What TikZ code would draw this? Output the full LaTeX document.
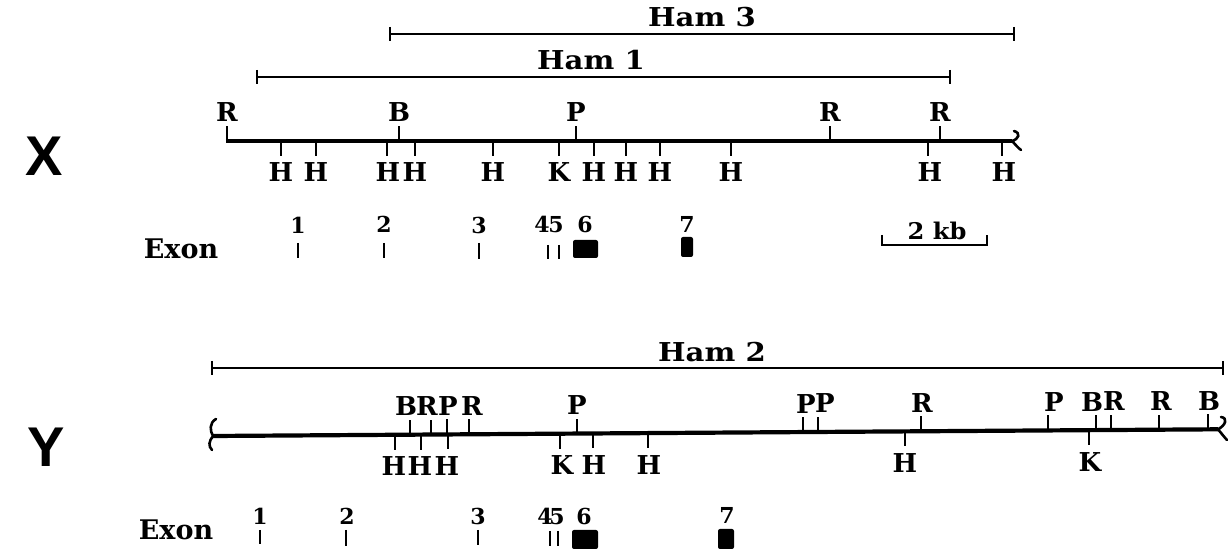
\documentclass[tikz,border=0pt]{standalone}
\usepackage{fontspec}
\usepackage{graphicx}
\setmainfont{DejaVu Serif}
\newfontfamily\bigsans{Liberation Sans}
\newcommand\usite[5]{%
  \coordinate (#1a) at (#2,#3);
  \coordinate (#1b) at (#2,#3-15);
  \draw[tk] (#1a) -- (#1b);
  \node[site,anchor=base] (#1) at (#4,#3-19) {#5};}
\newcommand\dsite[5]{%
  \coordinate (#1a) at (#2,#3);
  \coordinate (#1b) at (#2,#3+15);
  \draw[tk] (#1a) -- (#1b);
  \node[site,anchor=base] (#1) at (#4,#3+41) {#5};}
\newcommand\usiteY[4]{\pgfmathsetmacro\lyv{436-0.0067*(#2-213)}\usite{#1}{#2}{\lyv}{#3}{#4}}
\newcommand\dsiteY[4]{\pgfmathsetmacro\lyv{436-0.0067*(#2-213)}\dsite{#1}{#2}{\lyv}{#3}{#4}}
\newcommand\exontick[4]{% id, x, ytop, ybot
  \coordinate (#1t) at (#2,#3);
  \coordinate (#1b) at (#2,#4);
  \draw[ex] (#1t) -- (#1b);}
\begin{document}
\begin{tikzpicture}[x=0.5pt,y=-0.5pt,
  every node/.style={inner sep=0pt,outer sep=0pt},
  site/.style={font=\bfseries\fontsize{13}{13}\selectfont},
  num/.style={font=\bfseries\fontsize{11}{11}\selectfont},
  exlab/.style={font=\bfseries\fontsize{13.5}{13.5}\selectfont},
  big/.style={font=\bigsans\bfseries\fontsize{28}{28}\selectfont},
  gene/.style={line width=2.1pt,line cap=butt},
  tk/.style={line width=1.1pt},
  hambar/.style={line width=1pt},
  brk/.style={line width=1.3pt,line cap=round},
  ex/.style={line width=0.9pt},
  exblk/.style={fill=black,rounded corners=1pt}]
\useasboundingbox (0,0) rectangle (1228,555);

% big letters
\node[big] (lx) at (44,156) {X};
\node[big] (ly) at (46,447) {Y};

% ---------- Ham bars ----------
\coordinate (h3l) at (390,34); \coordinate (h3r) at (1014,34);
\draw[hambar] (h3l) -- (h3r);
\draw[hambar] ([yshift=3.5pt]h3l) -- ([yshift=-3.5pt]h3l);
\draw[hambar] ([yshift=3.5pt]h3r) -- ([yshift=-3.5pt]h3r);
\node[site,anchor=base] (ham3) at (702,27) {\scalebox{1.12}[1]{Ham 3}};

\coordinate (h1l) at (257,77); \coordinate (h1r) at (950,77);
\draw[hambar] (h1l) -- (h1r);
\draw[hambar] ([yshift=3.5pt]h1l) -- ([yshift=-3.5pt]h1l);
\draw[hambar] ([yshift=3.5pt]h1r) -- ([yshift=-3.5pt]h1r);
\node[site,anchor=base] (ham1) at (591,70) {\scalebox{1.12}[1]{Ham 1}};

\coordinate (h2l) at (212,368); \coordinate (h2r) at (1223,368);
\draw[hambar] (h2l) -- (h2r);
\draw[hambar] ([yshift=3.5pt]h2l) -- ([yshift=-3.5pt]h2l);
\draw[hambar] ([yshift=3.5pt]h2r) -- ([yshift=-3.5pt]h2r);
\node[site,anchor=base] (ham2) at (712,362) {\scalebox{1.12}[1]{Ham 2}};

% ---------- X map ----------
\coordinate (xl) at (227,141); \coordinate (xr) at (1012,141);
\draw[gene] ([xshift=-0.55pt]xl) -- (xr);
\draw[brk] (1014,131) .. controls (1021,133) and (1019,139) .. (xr) .. controls (1015,144) and (1018,148) .. (1021,150);
\usite{xR1}{227}{141}{227}{R}
\usite{xB1}{399}{141}{399}{B}
\usite{xP1}{576}{141}{576}{P}
\usite{xR2}{830}{141}{830}{R}
\usite{xR3}{940}{141}{940}{R}
\dsite{xH1}{281}{141}{281}{H}
\dsite{xH2}{316}{141}{316}{H}
\dsite{xH3}{387}{141}{388}{H}
\dsite{xH4}{415}{141}{415}{H}
\dsite{xH5}{493}{141}{493}{H}
\dsite{xK1}{559}{141}{559}{K}
\dsite{xH6}{594}{141}{594}{H}
\dsite{xH7}{626}{141}{626}{H}
\dsite{xH8}{660}{141}{660}{H}
\dsite{xH9}{731}{141}{731}{H}
\dsite{xH10}{928}{141}{930}{H}
\dsite{xH11}{1002}{141}{1004}{H}

% X exons
\node[exlab,anchor=base] (exonx) at (181,259) {Exon};
\exontick{xe1}{298}{243}{258}
\exontick{xe2}{384}{243}{258}
\exontick{xe3}{479}{243}{259}
\exontick{xe4}{548}{245}{259}
\exontick{xe5}{559}{245}{259}
\fill[exblk] (573,240) rectangle (598,258);
\fill[exblk] (681,237) rectangle (693,257);
\node[num,anchor=base] (nx1) at (298,234) {1};
\node[num,anchor=base] (nx2) at (384,233) {2};
\node[num,anchor=base] (nx3) at (479,234) {3};
\node[num,anchor=base] (nx4) at (542,233) {4};
\node[num,anchor=base] (nx5) at (556,233) {5};
\node[num,anchor=base] (nx6) at (585,233) {6};
\node[num,anchor=base] (nx7) at (687,233) {7};

% scale bar
\coordinate (sbl) at (882,245); \coordinate (sbr) at (987,245);
\draw[tk] ([yshift=5pt]sbl) -- (sbl) -- (sbr) -- ([yshift=5pt]sbr);
\node[font=\bfseries\fontsize{11.5}{11.5}\selectfont,anchor=base] (kb) at (937,240) {\scalebox{1.05}[1]{2 kb}};

% ---------- Y map ----------
\coordinate (yl) at (213,436); \coordinate (yr) at (1218,429.3);
\draw[gene] (yl) -- (yr);
\draw[brk] (216,419) .. controls (209,423) and (210,431) .. (yl) .. controls (209,441) and (208,446) .. (212,450);
\draw[brk] (1221,417) .. controls (1228,418) and (1226,425) .. (yr) .. controls (1222,434) and (1225,438) .. (1227,440);
\usiteY{yB1}{410}{406}{B}
\usiteY{yR1}{431}{427}{R}
\usiteY{yP1}{447}{448}{P}
\usiteY{yR2}{469}{472}{R}
\usiteY{yP2}{577}{577}{P}
\usiteY{yP3}{803}{806}{P}
\usiteY{yP4}{818}{825}{P}
\usiteY{yR3}{921}{922}{R}
\usiteY{yP5}{1048}{1054}{P}
\usiteY{yB2}{1096}{1092}{B}
\usiteY{yR4}{1111}{1114}{R}
\usiteY{yR5}{1159}{1161}{R}
\usiteY{yB3}{1208}{1209}{B}
\dsiteY{yH1}{395}{394}{H}
\dsiteY{yH2}{421}{420}{H}
\dsiteY{yH3}{448}{447}{H}
\dsiteY{yK1}{560}{562}{K}
\dsiteY{yH4}{593}{594}{H}
\dsiteY{yH5}{648}{649}{H}
\dsiteY{yH6}{905}{905}{H}
\dsiteY{yK2}{1089}{1090}{K}

% Y exons
\node[exlab,anchor=base] (exony) at (176,540) {Exon};
\exontick{ye1}{260}{530}{544}
\exontick{ye2}{346}{530}{546}
\exontick{ye3}{478}{530}{545}
\exontick{ye4}{550}{531}{546}
\exontick{ye5}{558}{531}{546}
\fill[exblk] (572,530) rectangle (598,549);
\fill[exblk] (718,529) rectangle (734,549);
\node[num,anchor=base] (ny1) at (260,525) {1};
\node[num,anchor=base] (ny2) at (347,525) {2};
\node[num,anchor=base] (ny3) at (478,525) {3};
\node[num,anchor=base] (ny4) at (545,525) {4};
\node[num,anchor=base] (ny5) at (557,525) {5};
\node[num,anchor=base] (ny6) at (584,525) {6};
\node[num,anchor=base] (ny7) at (727,524) {7};
\end{tikzpicture}
\end{document}
